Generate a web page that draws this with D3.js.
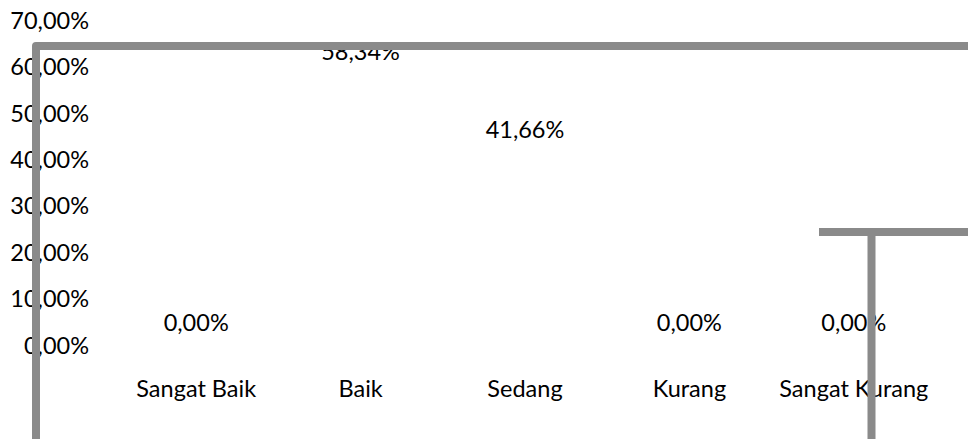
<!DOCTYPE html>
<html>
<head>
<meta charset="utf-8">
<script src="https://cdn.jsdelivr.net/npm/d3@7"></script>
<style>
  body { margin: 0; background: #fff; }
  text { font-family: Lato, "Open Sans", sans-serif; fill: #000; }
</style>
</head>
<body>
<svg id="chart"></svg>
<script>
const categories = ["Sangat Baik", "Baik", "Sedang", "Kurang", "Sangat Kurang"];
const values = [0, 58.34, 41.66, 0, 0];
const yTicks = [0, 10, 20, 30, 40, 50, 60, 70];

const W = 968, H = 439;
const fontSize = 23.5;
const fmt = v => v.toFixed(2).replace(".", ",") + "%";

const svg = d3.select("#chart")
    .attr("width", W)
    .attr("height", H);

const x = d3.scaleBand()
    .domain(categories)
    .range([114, 936]);

const y = d3.scaleLinear()
    .domain([0, 70])
    .range([345, 20]);

// y axis: labels only
const yAxis = svg.append("g")
    .attr("transform", "translate(89,0)")
    .call(d3.axisLeft(y).tickValues(yTicks).tickSize(0).tickPadding(0).tickFormat(fmt));
yAxis.select(".domain").remove();
yAxis.selectAll("text")
    .style("font-size", fontSize + "px")
    .style("font-family", "Lato, 'Open Sans', sans-serif")
    .attr("fill", "#000")
    .attr("dy", "0.35em");

// bars (white, invisible in the original)
svg.selectAll(".bar")
    .data(values)
    .enter()
    .append("rect")
    .attr("class", "bar")
    .attr("x", (d, i) => x(categories[i]) + x.bandwidth() * 0.3)
    .attr("width", x.bandwidth() * 0.4)
    .attr("y", d => y(d))
    .attr("height", d => y(0) - y(d))
    .attr("fill", "#fff");

// value labels
svg.selectAll(".val")
    .data(values)
    .enter()
    .append("text")
    .attr("class", "val")
    .attr("x", (d, i) => x(categories[i]) + x.bandwidth() / 2)
    .attr("y", d => y(d) - 22)
    .attr("dy", "0.35em")
    .attr("text-anchor", "middle")
    .style("font-size", fontSize + "px")
    .text(d => fmt(d));

// category labels
svg.selectAll(".cat")
    .data(categories)
    .enter()
    .append("text")
    .attr("class", "cat")
    .attr("x", d => x(d) + x.bandwidth() / 2)
    .attr("y", 389)
    .attr("dy", "0.35em")
    .attr("text-anchor", "middle")
    .style("font-size", fontSize + "px")
    .text(d => d);

// stray gray frame lines drawn over everything
const lineColor = "#8a8a8a";
svg.append("path")
    .attr("d", "M36,445V46H975")
    .attr("fill", "none")
    .attr("stroke", lineColor)
    .attr("stroke-width", 8)
    .attr("stroke-linejoin", "round");
svg.append("path")
    .attr("d", "M819,232H975")
    .attr("fill", "none")
    .attr("stroke", lineColor)
    .attr("stroke-width", 8);
svg.append("path")
    .attr("d", "M871.5,232V445")
    .attr("fill", "none")
    .attr("stroke", lineColor)
    .attr("stroke-width", 8);
</script>
</body>
</html>
